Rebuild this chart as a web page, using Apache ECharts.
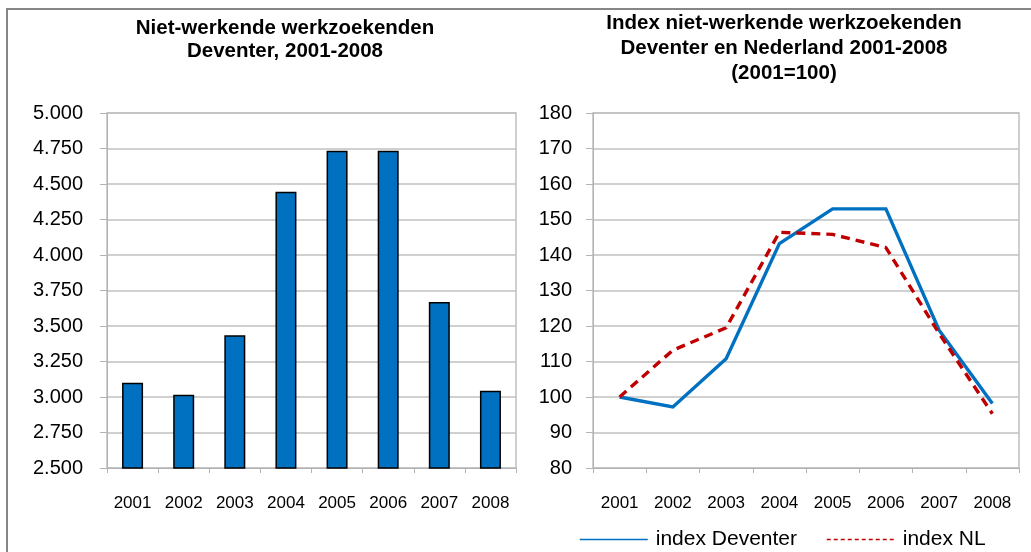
<!DOCTYPE html>
<html>
<head>
<meta charset="utf-8">
<title>Niet-werkende werkzoekenden Deventer</title>
<script src="https://cdn.jsdelivr.net/npm/echarts@6/dist/echarts.min.js"></script>
<style>
  html, body { margin: 0; padding: 0; background: #ffffff; }
  #chart { width: 1031px; height: 552px; }
</style>
</head>
<body>
<div id="chart"></div>
<script>
// Years shown on both x axes
const years = ['2001', '2002', '2003', '2004', '2005', '2006', '2007', '2008'];

// Number of non-working job seekers in Deventer
const werkzoekendenDeventer = [3100, 3016, 3434, 4446, 4735, 4735, 3669, 3044];

// Index (2001 = 100)
const indexDeventer = [100, 97.2, 110.8, 143.2, 153, 153, 118.8, 98.2];
const indexNL = [100, 113.2, 119.5, 146.4, 145.8, 142.1, 117.9, 95.3];

// Axis ranges
const leftAxis = { min: 2500, max: 5000, step: 250 };
const rightAxis = { min: 80, max: 180, step: 10 };

const FONT = '"Liberation Sans", Arial, sans-serif';
const GRID_GREY = '#c0c0c0';
const AXIS_GREY = '#b3b3b3';

// Dutch thousands separator: 4750 -> "4.750"
function nlThousands(v) {
  const n = Math.round(v);
  const th = Math.floor(n / 1000);
  const rest = String(n % 1000).padStart(3, '0');
  return th > 0 ? th + '.' + rest : String(n);
}

const chart = echarts.init(document.getElementById('chart'), null, { renderer: 'canvas' });

function categoryAxis(gridIndex) {
  return {
    type: 'category',
    gridIndex: gridIndex,
    data: years,
    boundaryGap: true,
    axisLine: { show: true, lineStyle: { color: AXIS_GREY, width: 1 } },
    axisTick: { show: true, length: 5, alignWithLabel: false, lineStyle: { color: AXIS_GREY } },
    axisLabel: { color: '#000', fontFamily: FONT, fontSize: 17, margin: 27 },
    splitLine: { show: false }
  };
}

function valueAxis(gridIndex, range, formatter, margin) {
  return {
    type: 'value',
    gridIndex: gridIndex,
    min: range.min,
    max: range.max,
    interval: range.step,
    axisLine: { show: true, lineStyle: { color: AXIS_GREY, width: 1 } },
    axisTick: { show: true, length: 7, lineStyle: { color: AXIS_GREY } },
    axisLabel: { color: '#000', fontFamily: FONT, fontSize: 20, margin: margin, formatter: formatter },
    splitLine: { show: true, lineStyle: { color: GRID_GREY, width: 1.5 } }
  };
}

const option = {
  backgroundColor: '#ffffff',
  animation: false,
  title: [
    {
      text: 'Niet-werkende werkzoekenden\nDeventer, 2001-2008',
      left: 280,
      top: 12,
      textAlign: 'center',
      textStyle: { fontFamily: FONT, fontSize: 20.5, fontWeight: 'bold', color: '#000', lineHeight: 23 }
    },
    {
      text: 'Index niet-werkende werkzoekenden\nDeventer en Nederland 2001-2008\n(2001=100)',
      left: 779,
      top: 6,
      textAlign: 'center',
      textStyle: { fontFamily: FONT, fontSize: 20.5, fontWeight: 'bold', color: '#000', lineHeight: 25 }
    }
  ],
  grid: [
    { left: 107, right: 515, top: 113, bottom: 84, show: true, borderColor: GRID_GREY, borderWidth: 1.5 },
    { left: 593, right: 12, top: 113, bottom: 84, show: true, borderColor: GRID_GREY, borderWidth: 1.5 }
  ],
  xAxis: [categoryAxis(0), categoryAxis(1)],
  yAxis: [
    valueAxis(0, leftAxis, nlThousands, 24),
    valueAxis(1, rightAxis, function (v) { return String(v); }, 21)
  ],
  legend: {
    left: 574,
    top: 524,
    itemWidth: 68,
    itemHeight: 20,
    itemGap: 29,
    data: [
      { name: 'index Deventer' },
      { name: 'index NL', lineStyle: { type: [4, 3] } }
    ],
    textStyle: { fontFamily: FONT, fontSize: 21, color: '#000', padding: [0, 0, 0, 3] },
    itemStyle: { opacity: 0 },
    lineStyle: { width: 1.5 }
  },
  series: [
    {
      name: 'werkzoekenden',
      type: 'bar',
      xAxisIndex: 0,
      yAxisIndex: 0,
      data: werkzoekendenDeventer,
      barWidth: 21,
      itemStyle: { color: '#0070C0', borderColor: '#000000', borderWidth: 1.5 }
    },
    {
      name: 'index Deventer',
      type: 'line',
      xAxisIndex: 1,
      yAxisIndex: 1,
      data: indexDeventer,
      symbol: 'none',
      lineStyle: { color: '#0070C0', width: 3.4, join: 'miter' },
      itemStyle: { color: '#0070C0' }
    },
    {
      name: 'index NL',
      type: 'line',
      xAxisIndex: 1,
      yAxisIndex: 1,
      data: indexNL,
      symbol: 'none',
      lineStyle: { color: '#C00000', width: 3.4, type: [9, 6] },
      itemStyle: { color: '#C00000' }
    }
  ],
  graphic: [
    {
      type: 'rect',
      silent: true,
      shape: { x: 7, y: 9, width: 1060, height: 580 },
      style: { fill: 'none', stroke: '#868686', lineWidth: 2 }
    }
  ]
};

chart.setOption(option);
</script>
</body>
</html>
